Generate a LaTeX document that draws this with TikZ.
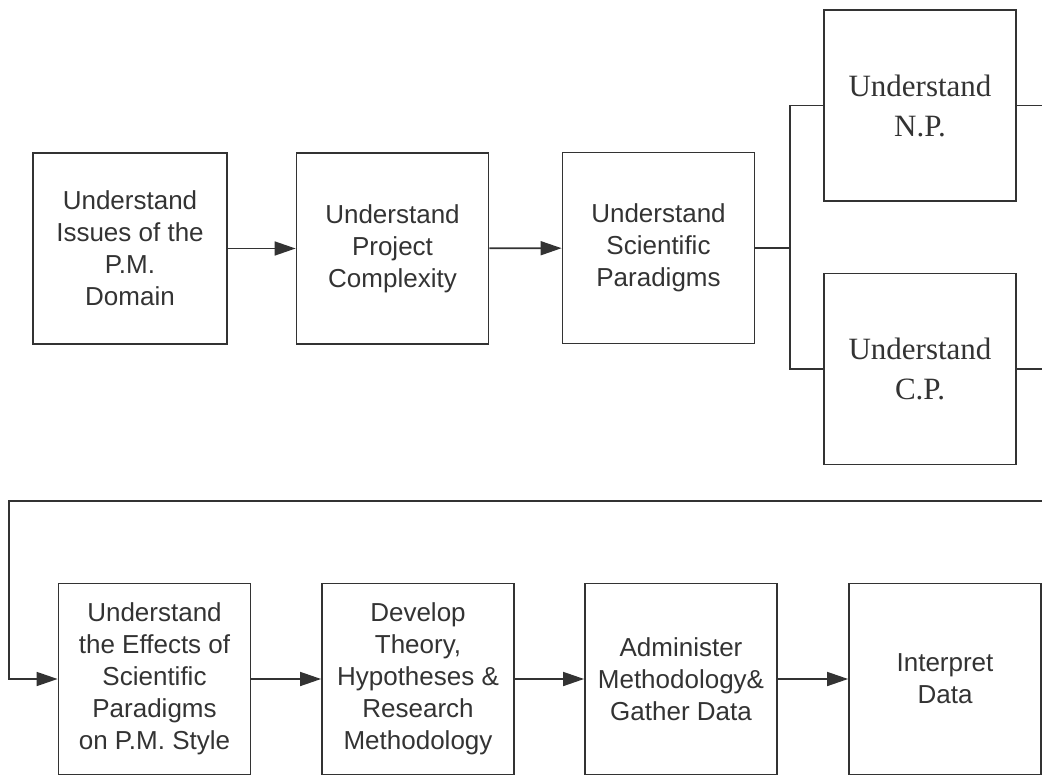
\documentclass[tikz,border=0pt]{standalone}
\usepackage{fontspec}
\setmainfont{Liberation Sans}
\newfontfamily\seriffont{Liberation Serif}
\usetikzlibrary{arrows.meta}
\definecolor{ink}{HTML}{333333}
\tikzset{
  stagebox/.style={draw=ink, line width=1.8pt, rectangle, inner sep=0pt,
    minimum width=192pt, minimum height=191pt, align=center, text=ink,
    font=\fontsize{26}{32}\selectfont},
  serifbox/.style={stagebox, font=\seriffont\fontsize{31}{40}\selectfont},
  link/.style={draw=ink, line width=1.7pt},
  flow/.style={link, -{Triangle[length=21pt, width=14pt]}}
}
\begin{document}
\begin{tikzpicture}[x=1pt, y=-1pt]
\useasboundingbox (0,0) rectangle (1042,776);
% top row
\node[stagebox, minimum width=194pt] (issues) at (130,248.5) {Understand\\Issues of the\\P.M.\\Domain};
\node[stagebox] (complex) at (392.5,248.5) {Understand\\Project\\Complexity};
\node[stagebox] (paradigms) at (658.5,248) {Understand\\Scientific\\Paradigms};
\node[serifbox] (np) at (920,105.5) {Understand\\N.P.};
\node[serifbox] (cp) at (920,369) {Understand\\C.P.};
% bottom row
\node[stagebox] (effects) at (154.5,679) {Understand\\the Effects of\\Scientific\\Paradigms\\on P.M. Style};
\node[stagebox] (theory) at (418,679) {Develop\\Theory,\\Hypotheses \&\\Research\\Methodology};
\node[stagebox] (gather) at (681,679) {Administer\\Methodology\&\\Gather Data};
\node[stagebox] (interpret) at (945,679) {Interpret\\Data};
% branch points and off-page ends
\coordinate (split) at (790,248);
\coordinate (npout) at (1042,105.5);
\coordinate (cpout) at (1042,369);
\coordinate (back) at (1042,501);
\coordinate (turn) at (9,501);
% connectors
\draw[flow] (issues) -- (complex);
\draw[flow] (complex) -- (paradigms);
\draw[link] (paradigms.east |- split) -- (split);
\draw[link] (split) |- (np.west);
\draw[link] (split) |- (cp.west);
\draw[link] (np.east) -- (npout);
\draw[link] (cp.east) -- (cpout);
\draw[flow] (back) -- (turn) |- (effects.west);
\draw[flow] (effects) -- (theory);
\draw[flow] (theory) -- (gather);
\draw[flow] (gather) -- (interpret);
\end{tikzpicture}
\end{document}
